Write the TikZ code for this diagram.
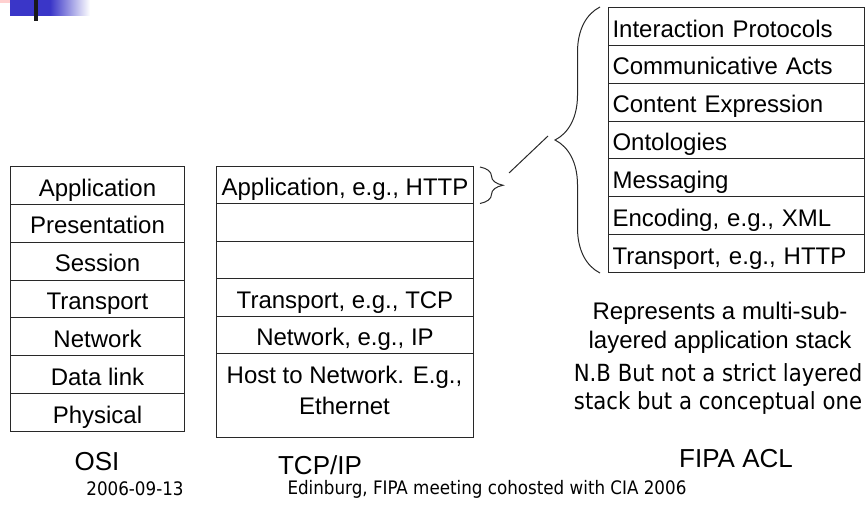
\documentclass[tikz,border=0pt]{standalone}
\usepackage{fontspec}
\setmainfont{Liberation Sans}
\newfontfamily\notefont{DejaVu Sans Condensed}
\usetikzlibrary{decorations.pathreplacing,calc}

\definecolor{logoblue}{RGB}{58,54,200}
\definecolor{logopink}{RGB}{255,208,208}
\definecolor{rule}{RGB}{40,40,40}

\begin{document}
\begin{tikzpicture}[x=0.5pt,y=-0.5pt,
  layer/.style={draw=rule, line width=0.5pt, anchor=north west, inner sep=0pt,
    text height=11.6pt, text depth=1pt, font=\fontsize{12}{14}\selectfont},
  osicell/.style={layer, minimum width=87pt, minimum height=18.93pt},
  tcpcell/.style={layer, minimum width=128.5pt, minimum height=18.75pt},
  aclcell/.style={layer, text width=124pt, inner xsep=2pt, align=left, minimum height=18.93pt},
  caption/.style={inner sep=0pt, font=\fontsize{13}{14}\selectfont},
  remark/.style={align=center, font=\fontsize{12}{14.5}\selectfont},
  nbnote/.style={align=center, font=\notefont\fontsize{11.8}{14}\selectfont},
  footer/.style={inner sep=0pt, font=\notefont\fontsize{9.3}{11}\selectfont},
  bracket/.style={draw=rule, line width=0.5pt, decorate}
]
\useasboundingbox (0,0) rectangle (865,506);

% corner logo
\fill[logopink] (0,0) rectangle (27,3);
\fill[logoblue] (10,0) rectangle (50,16);
\shade[left color=logoblue, right color=white] (50,0) rectangle (90,16);
\fill[black!90] (34,0) rectangle (38,21);

% OSI stack
\foreach \t [count=\i from 0] in {Application,Presentation,Session,Transport,Network,Data link,Physical}
  \node[osicell] (osi\i) at (10,{166+\i*37.86}) {\t};

% TCP/IP stack
\node[tcpcell] (tcp0) at (216,166)   {Application, e.g., HTTP};
\node[tcpcell] (tcp1) at (216,203.5) {};
\node[tcpcell] (tcp2) at (216,241)   {};
\node[tcpcell] (tcp3) at (216,278.5) {Transport, e.g., TCP};
\node[tcpcell] (tcp4) at (216,316)   {Network, e.g., IP};
\node[layer, minimum width=128.5pt, minimum height=41.75pt, text height=, text depth=] (tcp5) at (216,353.5) {};
\node[remark, font=\fontsize{12}{15.5}\selectfont] (hostlbl) at (344.5,390) {Host to Network. E.g.,\\Ethernet};

% FIPA ACL stack
\foreach \t [count=\i from 0] in {Interaction Protocols,Communicative Acts,Content Expression,Ontologies,Messaging,{Encoding, e.g., XML},{Transport, e.g., HTTP}}
  \node[aclcell] (acl\i) at (608,{7+\i*37.86}) {\t};

% braces and the link between them
\coordinate (sbTop) at ($(tcp0.north east)+(6,1)$);
\coordinate (sbBot) at ($(tcp0.south east)+(6,-1)$);
\draw[bracket, decoration={brace, amplitude=11.5pt}] (sbTop) -- (sbBot);
\coordinate (bbTop) at ($(acl0.north west)+(-8,0)$);
\coordinate (bbBot) at ($(acl6.south west)+(-8,0)$);
\draw[bracket, decoration={brace, amplitude=22.5pt}] (bbBot) -- (bbTop);
\coordinate (linkA) at (509,173);
\coordinate (linkB) at (548,136);
\draw[rule, line width=0.5pt] (linkA) -- (linkB);

% notes
\node[remark] (rep) at (720,328) {Represents a multi-sub-\\layered application stack};
\node[nbnote] (nb) at (718,389) {N.B But not a strict layered\\stack but a conceptual one};

% stack titles
\node[caption] (osiname) at (97,462) {OSI};
\node[caption, text depth=0pt] (tcpname) at (320,465) {TCP/IP};
\node[caption] (aclname) at (736,459) {FIPA ACL};

% footer
\node[footer] (date) at (135,489) {2006-09-13};
\node[footer] (venue) at (487,489) {Edinburg, FIPA meeting cohosted with CIA 2006};
\end{tikzpicture}
\end{document}
